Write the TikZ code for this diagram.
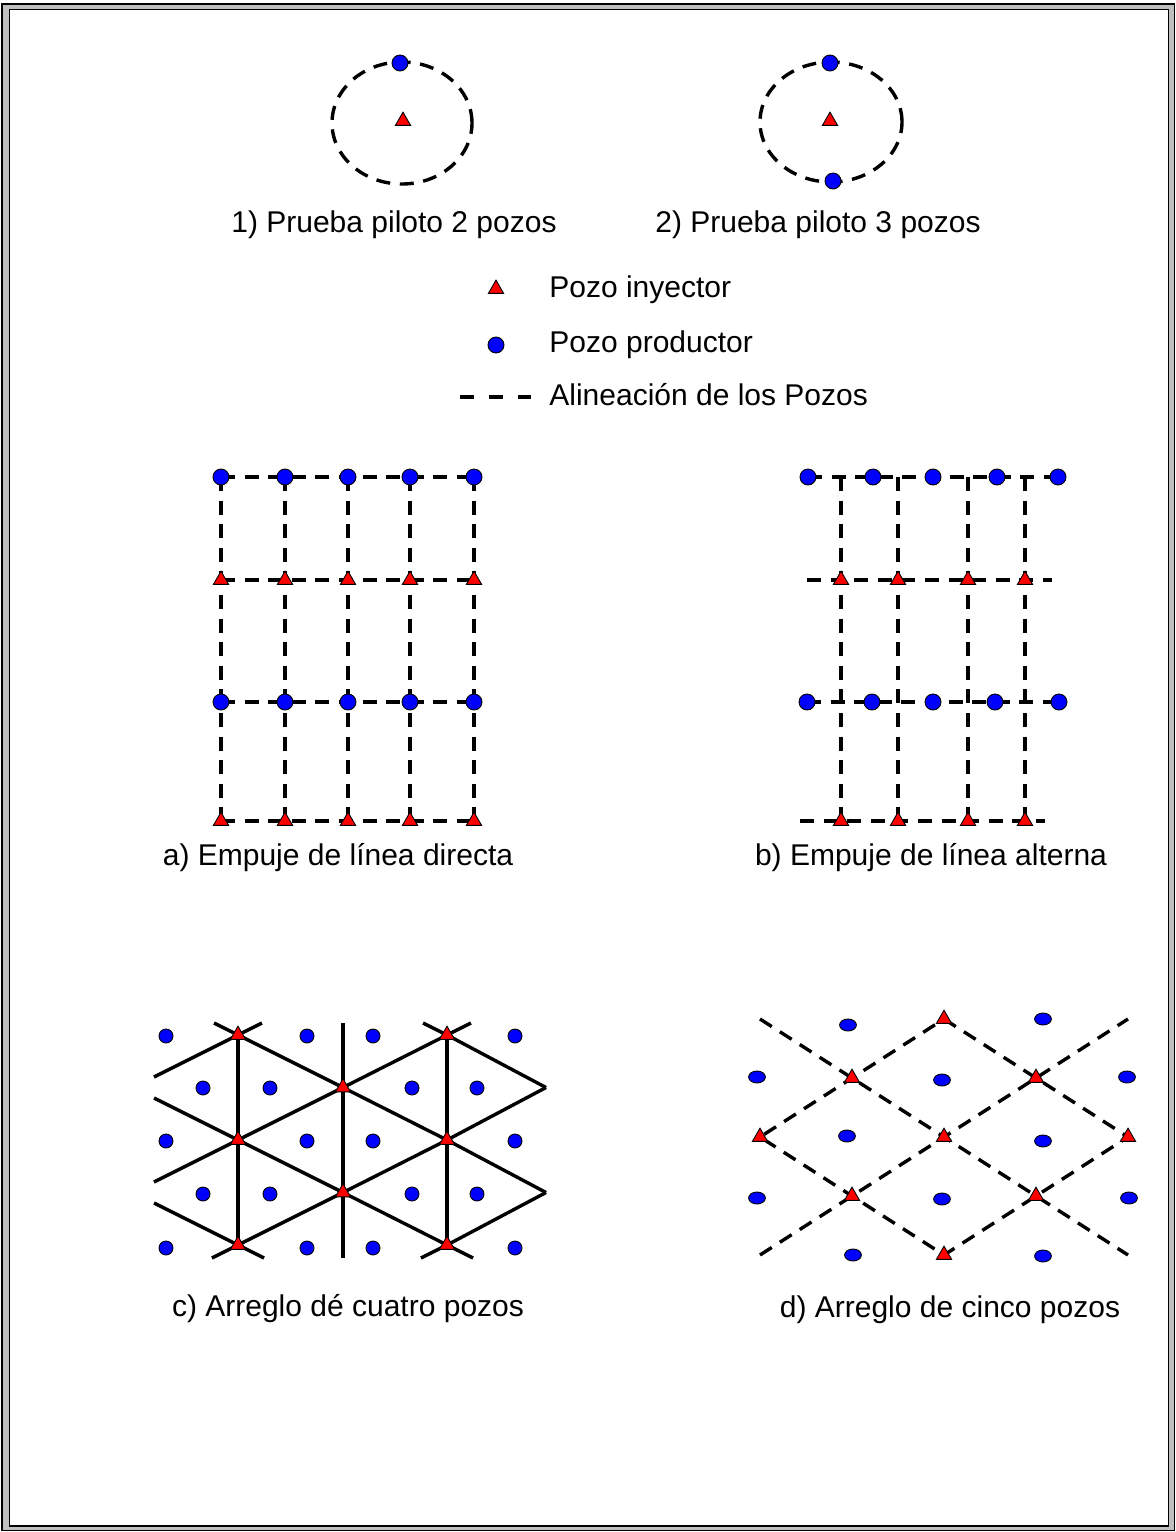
\documentclass[tikz,border=0pt]{standalone}
\usepackage{fontspec}
\setmainfont{Liberation Sans}
\usetikzlibrary{shapes.geometric,backgrounds,calc}
\begin{document}
\begin{tikzpicture}[x=0.5pt,y=-0.5pt,
  inj/.style={regular polygon, regular polygon sides=3, minimum size=8.8pt, inner sep=0pt, fill=red, draw=black, line width=0.45pt},
  prod/.style={circle, minimum size=8pt, inner sep=0pt, fill=blue, draw=black, line width=0.45pt},
  prodsm/.style={prod, minimum size=7pt},
  prodel/.style={ellipse, minimum width=8.4pt, minimum height=6pt, inner sep=0pt, fill=blue, draw=black, line width=0.45pt},
  dline/.style={line width=1.7pt, dash pattern=on 7pt off 4.8pt},
  sline/.style={line width=1.7pt},
  lbl/.style={anchor=base, inner sep=0pt, font=\fontsize{15}{18}\selectfont},
]
\useasboundingbox (0,0) rectangle (1176,1532);
% frame
\fill[gray!50, even odd rule] (2,4) rectangle (1174.5,1530.5) (9.5,9.5) rectangle (1168.5,1526);
\draw[line width=0.8pt] (2,4) rectangle (1174.5,1530.5);
\draw[line width=0.8pt] (9.5,9.5) rectangle (1168.5,1526);

% ---------- pilot tests ----------
\coordinate (cc1) at (402,123);
\node[inj] (p1i) at (403,121) {};
\node[prod] (p1p) at (400,63) {};
\coordinate (cc2) at (831,122);
\node[inj] (p2i) at (830,121) {};
\node[prod] (p2p1) at (830,63) {};
\node[prod] (p2p2) at (833,181) {};
\node[lbl] (t1) at (394,232) {1) Prueba piloto 2 pozos};
\node[lbl] (t2) at (818,232) {2) Prueba piloto 3 pozos};

% ---------- legend ----------
\node[inj] (legI) at (496,289) {};
\node[prod] (legP) at (496,345) {};
\coordinate (legS) at (460,397);
\coordinate (legE) at (531,397);
\node[lbl, anchor=base west] (legt1) at (549,297) {Pozo inyector};
\node[lbl, anchor=base west] (legt2) at (549,352) {Pozo productor};
\node[lbl, anchor=base west] (legt3) at (549,405) {Alineación de los Pozos};

% ---------- a) direct line drive ----------
\foreach \x [count=\i] in {221,285,348,410,474} {
  \node[prod] (a1\i) at (\x,477) {};
  \node[inj]  (a2\i) at (\x,580) {};
  \node[prod] (a3\i) at (\x,702) {};
  \node[inj]  (a4\i) at (\x,821) {};
}
\node[lbl] (ta) at (338,865) {a) Empuje de línea directa};

% ---------- b) staggered line drive ----------
\foreach \x [count=\i] in {808,873,933,997,1058} \node[prod] (b1\i) at (\x,477) {};
\foreach \x [count=\i] in {807,872,933,995,1059} \node[prod] (b3\i) at (\x,702) {};
\foreach \x [count=\i] in {841,898,968,1025} {
  \node[inj] (b2\i) at (\x,580) {};
  \node[inj] (b4\i) at (\x,821) {};
  \coordinate (bt\i) at (\x,477);
}
\coordinate (bl2) at (807,580);
\coordinate (br2) at (1052,580);
\coordinate (bl4) at (800,821);
\coordinate (br4) at (1045,821);
\node[lbl] (tb) at (931,865) {b) Empuje de línea alterna};

% ---------- c) four-spot ----------
\node[inj] (cT1) at (238,1035) {};
\node[inj] (cT2) at (447,1035) {};
\node[inj] (cT3) at (343,1087.5) {};
\node[inj] (cT4) at (238,1140) {};
\node[inj] (cT5) at (447,1140) {};
\node[inj] (cT6) at (343,1192.5) {};
\node[inj] (cT7) at (238,1245) {};
\node[inj] (cT8) at (447,1245) {};
\coordinate (cR1) at (546,1087.5);
\coordinate (cR2) at (546,1192.5);
\foreach \y [count=\j] in {1036,1141,1248}
  \foreach \x [count=\i] in {166,307,373,515} \node[prodsm] (cdA\j\i) at (\x,\y) {};
\foreach \y [count=\j] in {1088,1194}
  \foreach \x [count=\i] in {203,270,412,477} \node[prodsm] (cdB\j\i) at (\x,\y) {};
\node[lbl] (tc) at (348,1316) {c) Arreglo dé cuatro pozos};

% ---------- d) five-spot ----------
\node[inj] (dT) at (944,1019) {};
\node[inj] (dUL) at (852,1078) {};
\node[inj] (dUR) at (1036,1078) {};
\node[inj] (dL) at (760,1137) {};
\node[inj] (dC) at (944,1137) {};
\node[inj] (dR) at (1128,1137) {};
\node[inj] (dLL) at (852,1196) {};
\node[inj] (dLR) at (1036,1196) {};
\node[inj] (dB) at (944,1255) {};
\coordinate (d1s) at (760,1019);
\coordinate (d1e) at (1128,1255);
\coordinate (d2s) at (760,1255);
\coordinate (d2e) at (1128,1019);
\foreach \x/\y [count=\i] in {848/1025,1043/1019,757/1077,942/1080,1127/1077,847/1136,1043/1141,757/1198,942/1199,1129/1198,853/1255,1043/1256}
  \node[prodel] (dd\i) at (\x,\y) {};
\node[lbl] (td) at (950,1317) {d) Arreglo de cinco pozos};

% ---------- connectors (behind markers) ----------
\begin{scope}[on background layer]
  \draw[dline] (cc1) ellipse [x radius=35pt, y radius=30.5pt];
  \draw[dline] (cc2) ellipse [x radius=35.5pt, y radius=30pt];
  \draw[line width=1.7pt, dash pattern=on 7pt off 7.5pt] (legS) -- (legE);
  % a
  \foreach \r in {1,...,4} \draw[dline] (a\r1.center) -- (a\r5.center);
  \foreach \i in {1,...,5} \draw[dline] (a1\i.center) -- (a4\i.center);
  % b
  \draw[dline] (b11.center) -- (b15.center);
  \draw[dline] (bl2) -- (br2);
  \draw[dline] (b31.center) -- (b35.center);
  \draw[dline] (bl4) -- (br4);
  \foreach \i in {1,...,4} \draw[dline] (bt\i) -- (b2\i.center) -- (b4\i.center);
  % c
  \draw[sline] (423,1023) -- (cT2.center) -- (cR1);
  \draw[sline] (214,1023) -- (cT1.center) -- (cT3.center) -- (cT5.center) -- (cR2);
  \draw[sline] (154,1098) -- (cT4.center) -- (cT6.center) -- (cT8.center) -- (473,1258);
  \draw[sline] (154,1203) -- (cT7.center) -- (264,1258);
  \draw[sline] (154,1077) -- (cT1.center) -- (262,1023);
  \draw[sline] (154,1182) -- (cT4.center) -- (cT3.center) -- (cT2.center) -- (471,1023);
  \draw[sline] (212,1258) -- (cT7.center) -- (cT6.center) -- (cT5.center) -- (cR1);
  \draw[sline] (421,1258) -- (cT8.center) -- (cR2);
  \draw[sline] (cT1.center) -- (cT4.center) -- (cT7.center);
  \draw[sline] (cT2.center) -- (cT5.center) -- (cT8.center);
  \draw[sline] (343,1023) -- (cT3.center) -- (cT6.center) -- (343,1258);
  % d
  \draw[dline] (d1s) -- (dUL.center) -- (dC.center) -- (dLR.center) -- (d1e);
  \draw[dline] (d2s) -- (dLL.center) -- (dC.center) -- (dUR.center) -- (d2e);
  \draw[dline] (dT.center) -- (dUR.center) -- (dR.center) -- (dLR.center) -- (dB.center) -- (dLL.center) -- (dL.center) -- (dUL.center) -- cycle;
\end{scope}
\end{tikzpicture}
\end{document}
